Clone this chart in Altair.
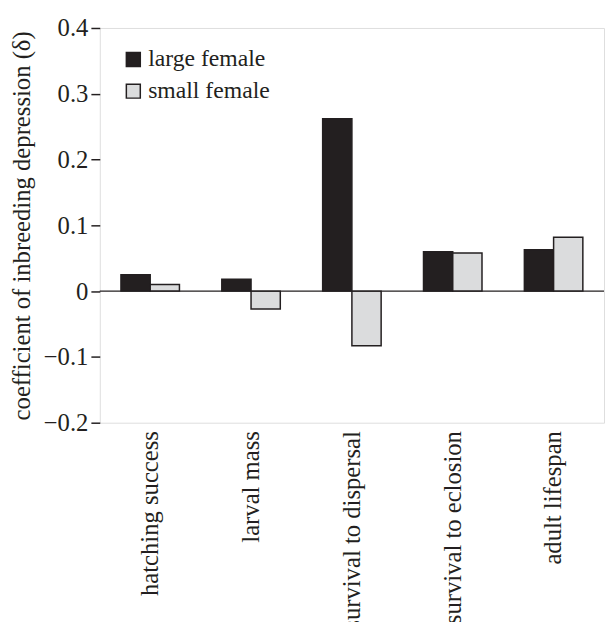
import altair as alt
import pandas as pd

traits = ["hatching success", "larval mass", "survival to dispersal",
          "survival to eclosion", "adult lifespan"]
large_female = [0.025, 0.018, 0.262, 0.060, 0.063]
small_female = [0.010, -0.027, -0.083, 0.058, 0.082]
groups = ["large female", "small female"]
y_ticks = [-0.2, -0.1, 0, 0.1, 0.2, 0.3, 0.4]

rows = []
for t, a, b in zip(traits, large_female, small_female):
    rows.append({"trait": t, "group": groups[0], "value": a})
    rows.append({"trait": t, "group": groups[1], "value": b})
df = pd.DataFrame(rows)

FONT = "Liberation Serif"
INK = "#231f20"

bars = alt.Chart(df).mark_bar(stroke=INK, strokeWidth=1.5).encode(
    x=alt.X("trait:N", sort=traits,
            scale=alt.Scale(paddingInner=0.42, paddingOuter=0.21),
            axis=alt.Axis(title=None, labelAngle=-90, ticks=False, domain=False,
                          labelFont=FONT, labelFontSize=25, labelColor=INK,
                          labelPadding=8, labelLimit=0)),
    xOffset=alt.XOffset("group:N", sort=groups,
                        scale=alt.Scale(paddingInner=0, paddingOuter=0)),
    y=alt.Y("value:Q",
            scale=alt.Scale(domain=[-0.2, 0.4], nice=False, zero=False),
            axis=alt.Axis(title="coefficient of inbreeding depression (δ)",
                          values=y_ticks, grid=False, domain=False,
                          tickColor=INK, tickSize=9, tickWidth=1.5,
                          labelExpr="datum.value == 0 ? '0' : replace(format(datum.value, '.1f'), '-', '–')",
                          labelFont=FONT, labelFontSize=25, labelColor=INK,
                          labelPadding=3,
                          titleFont=FONT, titleFontSize=25, titleFontWeight="normal",
                          titleColor=INK, titlePadding=9)),
    y2=alt.datum(0),
    color=alt.Color("group:N", sort=groups,
                    scale=alt.Scale(domain=groups, range=[INK, "#dbdcdd"]),
                    legend=alt.Legend(title=None, orient="none", legendX=22, legendY=20,
                                      symbolType="square", symbolSize=200,
                                      symbolStrokeColor=INK, symbolStrokeWidth=1.5,
                                      labelFont=FONT, labelFontSize=24, labelColor=INK,
                                      rowPadding=8, labelOffset=3)),
)

zero = alt.Chart(pd.DataFrame({"v": [0]})).mark_rule(color=INK, strokeWidth=1.5).encode(
    y=alt.Y("v:Q")
)

chart = alt.layer(bars, zero).properties(
    width=511, height=400,
    autosize=alt.AutoSizeParams(type="none"),
    padding={"left": 93, "top": 16, "right": 2, "bottom": 220},
).configure_view(stroke=INK, strokeWidth=1.5).configure(background="white")

chart.save("out.html", embed_options={"renderer": "svg", "actions": False})
